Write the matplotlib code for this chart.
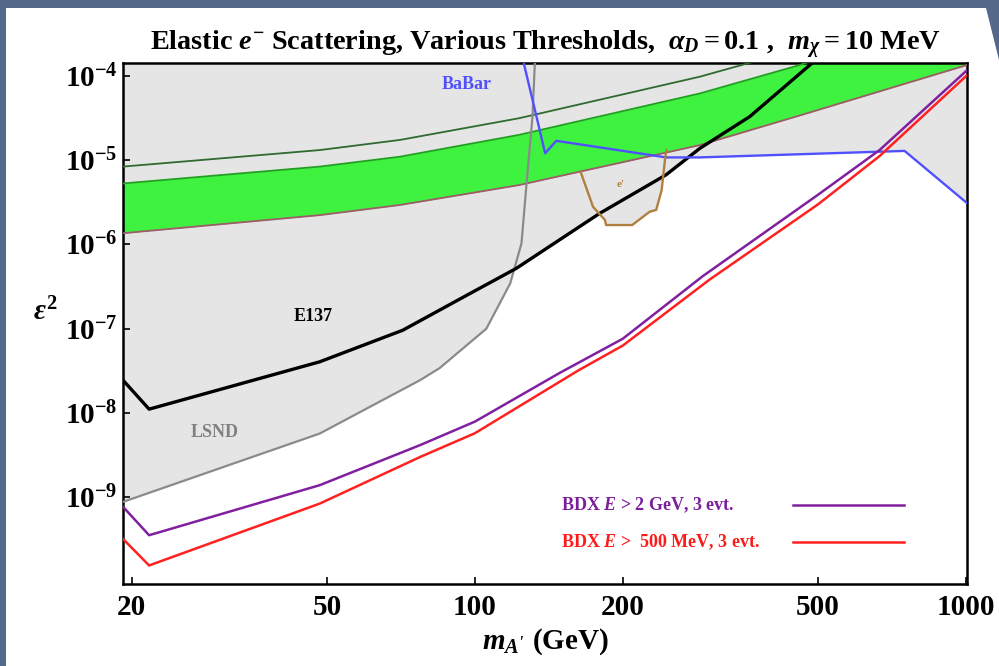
import numpy as np
import matplotlib as mpl
mpl.use('Agg')
import matplotlib.pyplot as plt
from matplotlib.patches import Polygon

plt.rcParams['font.family'] = ['Liberation Serif', 'DejaVu Serif']
plt.rcParams['font.weight'] = 'bold'
plt.rcParams['axes.titleweight'] = 'bold'
plt.rcParams['axes.labelweight'] = 'bold'
plt.rcParams['mathtext.fontset'] = 'custom'
plt.rcParams['mathtext.rm'] = 'Liberation Serif:bold'
plt.rcParams['mathtext.it'] = 'Liberation Serif:italic:bold'
plt.rcParams['mathtext.bf'] = 'Liberation Serif:bold'
plt.rcParams['mathtext.fallback'] = 'stix'

# ---- data (m_A' in GeV, eps^2) ----
lsnd_m   = [19.2, 48.3, 77.3, 84.7, 105.5, 118, 124.4, 127.4, 131, 132.4, 133]
lsnd_eps = [8.8e-10, 5.7e-9, 2.45e-8, 3.4e-8, 1.0e-7, 3.45e-7, 1.03e-6, 5.3e-6, 3.3e-5, 1.35e-4, 3.2e-4]

e137_m   = [19.2, 21.7, 48.3, 71.3, 97.5, 121.4, 179.5, 245, 287, 363, 481, 560]
e137_eps = [2.45e-8, 1.11e-8, 4.05e-8, 9.6e-8, 2.6e-7, 5.2e-7, 2.34e-6, 6.7e-6, 1.38e-5, 3.3e-5, 1.35e-4, 2.9e-4]

babar_m   = [124, 126, 133, 139, 146.5, 245, 287, 750, 1005]
babar_eps = [2.5e-4, 1.35e-4, 3.6e-5, 1.21e-5, 1.7e-5, 1.08e-5, 1.08e-5, 1.29e-5, 3.1e-6]

ae_m   = [164, 174, 184, 185, 209, 227, 234, 240, 244, 245.5]
ae_eps = [7.4e-6, 2.8e-6, 1.95e-6, 1.7e-6, 1.7e-6, 2.45e-6, 2.57e-6, 4.4e-6, 1.05e-5, 1.32e-5]

band_m    = [19.2, 48.3, 70.3, 123, 287, 459, 1005]
band_hi   = [5.3e-6, 8.4e-6, 1.1e-5, 2.0e-5, 6.2e-5, 1.35e-4, 6.5e-4]
band_lo   = [1.36e-6, 2.23e-6, 2.94e-6, 5.07e-6, 1.51e-5, 3.4e-5, 1.35e-4]
band_2sig = [8.4e-6, 1.32e-5, 1.74e-5, 3.15e-5, 9.8e-5, 2.1e-4, 1.0e-3]

bdx2_m   = [19.2, 21.7, 48.3, 77.3, 100, 149, 200, 291, 500, 667, 1005]
bdx2_eps = [7.7e-10, 3.54e-10, 1.39e-9, 4.15e-9, 7.9e-9, 3.0e-8, 7.6e-8, 4.2e-7, 3.9e-6, 1.32e-5, 1.17e-4]

bdx05_m   = [19.2, 21.7, 48.3, 77.3, 100, 163, 200, 300, 500, 667, 1005]
bdx05_eps = [3.2e-10, 1.55e-10, 8.4e-10, 3.0e-9, 5.75e-9, 3.24e-8, 6.3e-8, 3.8e-7, 3.0e-6, 1.12e-5, 1.02e-4]

xticks = [20, 50, 100, 200, 500, 1000]
yticks = [1e-9, 1e-8, 1e-7, 1e-6, 1e-5, 1e-4]

TOP = 1.0
GRAY = '#e5e5e5'

fig = plt.figure(figsize=(9.99, 6.66), dpi=100)
fig.patch.set_facecolor('#52698a')
# white slide panel (its top-right corner is cut by the backdrop)
panel = [(6/999, 0), (1, 0), (1, 1 - 60/666), (986/999, 1 - 8/666), (6/999, 1 - 8/666)]
fig.add_artist(Polygon(panel, closed=True, transform=fig.transFigure,
                       facecolor='white', edgecolor='none', zorder=-5))
ax = fig.add_axes([123/999, 82/666, 844/999, 521/666])
ax.set_xscale('log')
ax.set_yscale('log')

# excluded regions (all the same gray)
ax.fill_between(lsnd_m, lsnd_eps, TOP, color=GRAY, lw=0, zorder=1)
ax.fill_between(e137_m, e137_eps, TOP, color=GRAY, lw=0, zorder=1)
ax.fill_between(babar_m, babar_eps, TOP, color=GRAY, lw=0, zorder=1)
ax.fill(ae_m, ae_eps, color=GRAY, lw=0, zorder=1)

# g-2 band
ax.fill_between(band_m, band_lo, band_hi, color='#3ff23f', lw=0, zorder=2)
ax.plot(band_m, band_hi, color='#1fa01f', lw=1.3, zorder=3)
ax.plot(band_m, band_lo, color='#a05a6a', lw=1.3, zorder=3)
ax.plot(band_m, band_2sig, color='#2f6a2f', lw=1.3, zorder=3)

ax.plot(lsnd_m, lsnd_eps, color='#8a8a8a', lw=1.6, zorder=3)
ax.plot(e137_m, e137_eps, color='black', lw=2.4, zorder=4)
ax.plot(babar_m, babar_eps, color='#5050ff', lw=1.7, zorder=4)
ax.plot(ae_m, ae_eps, color='#b08040', lw=1.7, zorder=4)
ax.plot(bdx2_m, bdx2_eps, color='#8020a0', lw=1.8, zorder=4)
ax.plot(bdx05_m, bdx05_eps, color='#ff2020', lw=1.8, zorder=4)

ax.set_xlim(19.2, 1005)
ax.set_ylim(10**-10.03, 10**-3.846)

ax.text(96, 8.0e-5, 'BaBar', color='#5050ff', fontsize=13, ha='center', va='center', zorder=5)
ax.text(46.8, 1.38e-7, 'E137', color='black', fontsize=13, ha='center', va='center', zorder=5)
ax.text(29.5, 5.9e-9, 'LSND', color='#808080', fontsize=13, ha='center', va='center', zorder=5)
ax.text(198, 5.1e-6, "e'", color='#b08040', fontsize=8, ha='center', va='center', zorder=5)

# legend drawn by hand like the original
ax.text(0.519, 0.152, r'BDX $E$ > 2 GeV, 3 evt.', color='#7a1e9a', fontsize=13,
        transform=ax.transAxes, ha='left', va='center', zorder=5)
ax.text(0.519, 0.080, r'BDX $E$ >  500 MeV, 3 evt.', color='#ff1a1a', fontsize=13,
        transform=ax.transAxes, ha='left', va='center', zorder=5)
ax.plot([0.794, 0.925], [0.151, 0.151], color='#8020a0', lw=1.8, transform=ax.transAxes, zorder=5)
ax.plot([0.794, 0.925], [0.080, 0.080], color='#ff2020', lw=1.8, transform=ax.transAxes, zorder=5)

ax.set_xticks(xticks)
ax.set_xticklabels([str(v) for v in xticks])
ax.set_yticks(yticks)
ax.set_yticklabels([r'$10^{%d}$' % int(np.log10(v)) for v in yticks])
ax.minorticks_off()
ax.tick_params(direction='in', length=5, width=1.2, labelsize=21, pad=4)
ax.tick_params(axis='x', pad=7)
for s in ax.spines.values():
    s.set_linewidth(1.8)

ax.set_title(r'Elastic $e^{-}$ Scattering, Various Thresholds,  $\alpha_D = 0.1$ ,  $m_\chi = 10$ MeV',
             fontsize=20.3, pad=9)
ax.set_xlabel(r"$m_{A'}$ (GeV)", fontsize=21, labelpad=4)
fig.text(45/999, 1 - 312/666, r'$\epsilon^2$', fontsize=21, ha='center', va='center')

plt.savefig('out.png', dpi=100)
